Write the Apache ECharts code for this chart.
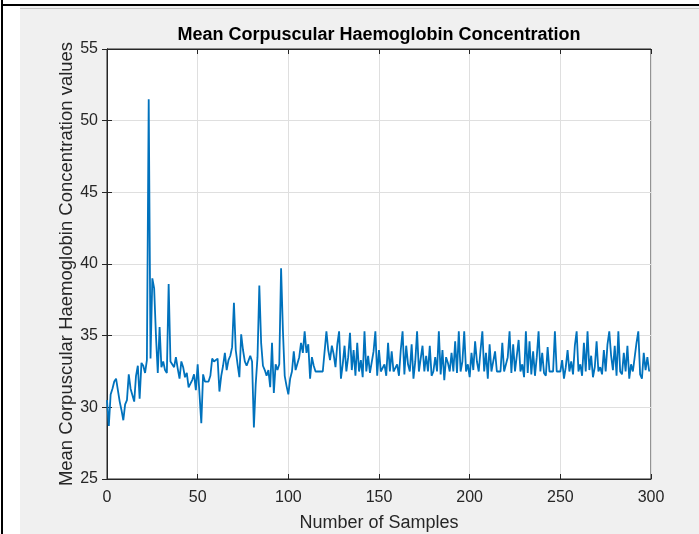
<!DOCTYPE html>
<html>
<head>
<meta charset="utf-8">
<script src="https://cdn.jsdelivr.net/npm/echarts@6/dist/echarts.min.js"></script>
<style>
  html, body { margin: 0; padding: 0; background: #ffffff; width: 699px; height: 534px; overflow: hidden; }
  #edgeLeft { position: absolute; left: 1px; top: 0; width: 2px; height: 534px; background: #000; }
  #edgeTop { position: absolute; left: 1px; top: 4px; width: 698px; height: 2px; background: #000; }
  #chart { position: absolute; left: 20px; top: 6px; width: 679px; height: 528px; }
  #chart::before { content: ""; position: absolute; left: 0; top: 2px; width: 679px; height: 1px; background: #c4c4c4; z-index: 5; }
</style>
</head>
<body>
<div id="edgeLeft"></div>
<div id="edgeTop"></div>
<div id="chart"></div>
<script>
// MCHC readings, sample by sample
const mchcStart = [
  30.5, 28.7, 30.9, 31.3, 31.8, 32.0, 31.9, 30.4, 29.8, 29.1,
  30.2, 30.5, 32.3, 31.3, 31.2, 30.4, 32.2, 32.9, 30.6, 33.1,
  32.9, 32.4, 33.3, 51.5, 33.4, 39.0, 38.3, 35.0, 32.4, 35.6,
  32.8, 33.2, 32.6, 32.4, 38.6, 33.2, 33.1, 32.8, 33.5, 32.7,
  32.0, 33.2, 32.8, 32.1, 32.4, 31.4, 31.5, 31.9, 32.3, 31.2,
  33.0, 33.1, 28.9
];
const mchcMiddle = [
  32.3, 31.8, 31.7, 31.8, 32.2, 33.4, 33.2, 33.3, 33.4, 31.1,
  32.2, 32.9, 33.8, 32.6, 33.3, 33.6, 34.2, 37.3, 34.0, 33.0,
  32.1, 35.1, 34.0, 33.2, 32.9, 32.8, 33.6, 33.2, 28.6, 31.6,
  33.5, 38.5, 34.5, 32.9, 32.6, 32.2, 32.6, 31.4, 34.5, 31.0,
  33.0, 32.6, 33.0, 39.7, 35.4, 32.2, 31.5, 30.9, 32.0, 32.5,
  33.9, 32.6, 32.5, 33.5, 34.5, 33.8, 35.3
];
const mchcLate = [
  33.8, 34.4, 32.0, 33.5, 32.9, 32.5, 32.5, 32.5, 32.5, 32.5,
  32.6, 35.3, 34.0, 33.3, 34.3, 33.7, 32.8, 34.4, 35.3, 32.0,
  33.0, 34.3, 32.5, 33.5, 35.2, 32.6, 34.0, 32.2, 34.5, 32.5,
  33.3, 32.1, 35.3, 32.5, 33.6, 32.4, 32.5, 33.9, 35.3, 32.2,
  34.0, 32.5, 32.5, 33.0, 32.2, 34.5, 32.5, 33.9, 32.5, 32.6,
  33.0, 32.2, 34.0, 35.3, 32.3, 34.3, 33.0, 32.5, 34.4, 32.0,
  33.2, 35.3, 32.5, 32.4, 34.3, 32.5, 33.6, 32.5, 34.3, 32.2,
  32.5, 33.5, 32.5, 35.3, 32.3, 34.0, 31.9, 33.5, 33.1, 32.5,
  33.8, 32.5, 34.6, 32.4, 35.3, 32.5, 33.2, 35.3, 32.5, 33.0,
  32.1, 33.8, 32.6, 34.6, 33.2, 32.5, 34.0, 35.3, 32.5, 33.8,
  32.0, 34.4, 32.5, 32.5, 33.9, 32.5, 32.5, 32.5, 34.5, 32.5,
  32.5, 33.5, 35.3, 32.4, 34.4, 32.5, 32.5, 34.7, 32.5, 33.0,
  32.1, 35.3, 32.4, 34.6, 32.3, 33.9, 32.2, 33.5, 35.3, 32.5,
  33.8, 32.4, 32.2, 34.2, 32.5, 32.5, 32.5, 35.3, 32.5, 32.5,
  32.5, 33.3, 32.0, 32.8, 34.0, 32.5, 33.2, 32.3, 34.3, 35.3,
  32.5, 33.0, 32.2, 34.5, 32.5, 35.3, 32.6, 33.6, 32.1, 32.8,
  34.6, 32.5, 32.8, 32.3, 34.0, 32.5, 34.4, 35.3, 33.6, 32.6,
  34.3, 32.2, 35.3, 32.5, 32.3, 33.8, 32.5, 34.3, 32.0, 33.0,
  32.5, 32.5, 34.5, 35.3, 32.3, 32.0, 33.8, 32.6, 33.5, 32.5
];

const xTicks = [0, 50, 100, 150, 200, 250, 300];
const yTicks = [25, 30, 35, 40, 45, 50, 55];

const mchc = mchcStart.concat(mchcMiddle, mchcLate);
const seriesData = mchc.map((v, i) => [i, v]);

const axisInk = '#262626';
const fontStack = 'Liberation Sans, Arial, sans-serif';
const tickFont = { color: axisInk, fontSize: 16, fontFamily: fontStack };

const chart = echarts.init(document.getElementById('chart'), null, { renderer: 'canvas' });
chart.setOption({
  backgroundColor: '#f0f0f0',
  animation: false,
  title: {
    text: 'Mean Corpuscular Haemoglobin Concentration',
    left: 354, textAlign: 'center', top: 14,
    textStyle: { color: '#000', fontSize: 18, fontWeight: 'bold', fontFamily: fontStack, lineHeight: 20 }
  },
  grid: {
    left: 87, right: 48, top: 43, bottom: 55,
    outerBoundsMode: 'none',
    show: true, backgroundColor: '#ffffff', borderColor: axisInk, borderWidth: 1
  },
  xAxis: [{
    type: 'value', min: xTicks[0], max: xTicks[xTicks.length - 1], interval: xTicks[1] - xTicks[0],
    name: 'Number of Samples', nameLocation: 'middle', nameGap: 35, nameMoveOverlap: false,
    nameTextStyle: { color: axisInk, fontSize: 18, fontFamily: fontStack },
    axisLine: { show: true, lineStyle: { color: axisInk, width: 1 } },
    axisTick: { show: true, inside: true, length: 5, lineStyle: { color: axisInk } },
    axisLabel: Object.assign({ margin: 11 }, tickFont),
    splitLine: { show: true, lineStyle: { color: '#dfdfdf', width: 1 } }
  }, {
    type: 'value', position: 'top', min: xTicks[0], max: xTicks[xTicks.length - 1], interval: xTicks[1] - xTicks[0],
    axisLine: { show: true, lineStyle: { color: axisInk, width: 1 } },
    axisTick: { show: true, inside: true, length: 5, lineStyle: { color: axisInk } },
    axisLabel: { show: false }, splitLine: { show: false }
  }],
  yAxis: [{
    type: 'value', min: yTicks[0], max: yTicks[yTicks.length - 1], interval: yTicks[1] - yTicks[0],
    name: 'Mean Corpuscular Haemoglobin Concentration values', nameLocation: 'middle', nameGap: 31, nameMoveOverlap: false,
    nameTextStyle: { color: axisInk, fontSize: 18.5, fontFamily: fontStack },
    axisLine: { show: true, lineStyle: { color: axisInk, width: 1 } },
    axisTick: { show: true, inside: true, length: 5, lineStyle: { color: axisInk } },
    axisLabel: Object.assign({ margin: 9 }, tickFont),
    splitLine: { show: true, lineStyle: { color: '#dfdfdf', width: 1 } }
  }, {
    type: 'value', position: 'right', min: yTicks[0], max: yTicks[yTicks.length - 1], interval: yTicks[1] - yTicks[0],
    axisLine: { show: true, lineStyle: { color: axisInk, width: 1 } },
    axisTick: { show: true, inside: true, length: 5, lineStyle: { color: axisInk } },
    axisLabel: { show: false }, splitLine: { show: false }
  }],
  series: [{
    type: 'line',
    data: seriesData,
    showSymbol: false,
    symbol: 'none',
    lineStyle: { color: '#0072BD', width: 1.8 },
    z: 3
  }]
});
</script>
</body>
</html>
